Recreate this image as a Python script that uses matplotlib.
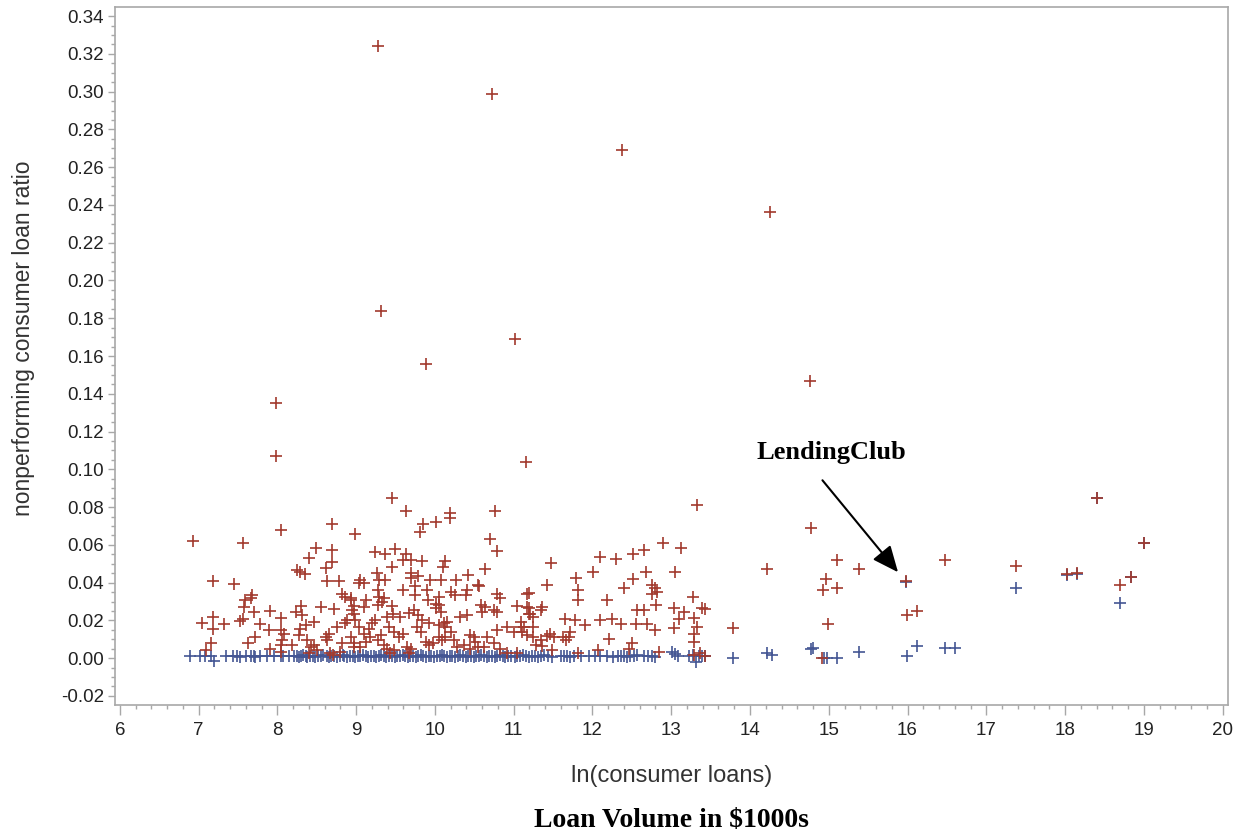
import matplotlib
matplotlib.use("Agg")
from matplotlib import pyplot as plt
from matplotlib.ticker import MultipleLocator, FormatStrFormatter

# red: banks with a nonperforming consumer loan ratio (x = ln loans, y = ratio)
red_pts = [
    (9.27, .324), (10.72, .299), (12.38, .269), (14.25, .236), (9.31, .184),
    (11.01, .169), (9.89, .156), (14.76, .147), (7.98, .135), (7.98, .107),
    (11.15, .104), (9.45, .085), (13.33, .081), (10.76, .078), (9.63, .078),
    (10.19, .077), (10.19, .074), (10.01, .072), (9.85, .071), (9.81, .067),
    (8.99, .066), (10.70, .063), (10.79, .057), (6.93, .062), (7.56, .061),
    (8.04, .068), (8.69, .071), (14.78, .069),
    (7.18, .041), (7.45, .0395), (8.49, .0585), (8.69, .0575), (8.40, .053),
    (8.69, .051), (8.61, .0476), (8.25, .0466), (8.29, .0457), (8.35, .0444),
    (8.63, .041), (8.78, .041), (9.03, .040), (7.59, .0307), (7.66, .0316),
    (7.68, .0333), (7.57, .027), (7.70, .0245), (7.90, .025), (8.04, .0215),
    (8.23, .0245), (8.30, .0275), (8.31, .0228), (8.55, .027), (8.72, .026),
    (7.18, .022), (7.04, .0187), (7.18, .0152), (7.32, .018), (7.52, .0197),
    (7.56, .021), (7.78, .018), (7.89, .0148), (8.04, .0148), (7.72, .0113),
    (7.62, .0081), (7.15, .0078), (7.09, .0042), (8.08, .0127), (8.06, .0095),
    (8.04, .0069), (7.91, .005), (8.04, .0033), (8.19, .0069), (8.27, .0122),
    (8.29, .0157), (8.36, .0175), (8.46, .0192), (8.38, .0095), (8.42, .006),
    (8.46, .0069), (8.50, .0042), (8.61, .0113), (8.65, .013), (8.63, .0095),
    (8.76, .0166), (8.86, .0184), (8.88, .0201), (8.82, .034), (8.86, .0324),
    (8.93, .0316), (8.95, .0254), (8.97, .0236), (8.82, .0078), (8.93, .0113),
    (8.97, .006), (8.80, .0033), (8.67, .0025), (8.70, .0016), (8.40, .0025),
    (9.24, .056), (9.36, .055), (9.49, .0577), (9.63, .0554), (9.60, .0522),
    (9.70, .0519), (9.84, .0513), (9.45, .0483), (10.13, .0513), (10.10, .0483),
    (10.64, .0474), (9.05, .0416), (9.10, .0398), (9.26, .0451), (9.29, .0416),
    (9.37, .0416), (9.69, .045), (9.70, .0427), (9.79, .0434), (9.94, .0416),
    (10.07, .0413), (10.27, .0416), (10.42, .0439), (10.54, .0386), (10.56, .038),
    (9.27, .036), (9.29, .0324), (9.60, .036), (9.75, .038), (9.75, .0333),
    (9.90, .036), (9.91, .031), (10.05, .0324), (10.01, .0289), (10.20, .0351),
    (10.26, .0333), (10.41, .0363), (10.39, .0333), (10.79, .0342), (10.82, .0316),
    (11.17, .0342), (8.93, .0307), (8.97, .0275), (9.12, .0307), (9.10, .0271),
    (9.27, .028), (9.33, .0298), (9.35, .0316), (9.46, .0275), (9.47, .0236),
    (9.56, .0219), (9.67, .024), (9.73, .0254), (9.79, .0228), (9.84, .0201),
    (9.93, .0184), (10.01, .0263), (10.05, .028), (10.07, .0245), (10.11, .0184),
    (10.13, .0166), (10.32, .0219), (10.41, .0228), (10.58, .028), (10.60, .0245),
    (10.64, .0271), (10.75, .0254), (10.79, .0245), (11.04, .0275), (11.09, .0192),
    (10.79, .0148), (10.92, .0166), (11.00, .0139), (10.45, .0122), (10.49, .0113),
    (10.51, .0086), (10.66, .0113), (8.99, .0201), (9.03, .0166), (9.10, .013),
    (9.16, .0157), (9.20, .0184), (9.24, .0201), (9.18, .0113), (9.27, .0095),
    (9.31, .0122), (9.39, .0219), (9.41, .0166), (9.48, .0139), (9.54, .0113),
    (9.60, .013), (9.65, .006), (9.69, .0051), (9.67, .0025), (9.77, .0166),
    (9.82, .0139), (9.88, .0086), (9.92, .0069), (9.98, .0078), (10.05, .0113),
    (10.09, .0095), (10.13, .0113), (10.20, .0139), (10.24, .0095), (10.28, .006),
    (10.05, .0175), (10.15, .0192), (8.97, .0078), (9.05, .006), (9.12, .0086),
    (9.35, .0069), (9.39, .0051), (9.43, .0025), (9.48, .0042), (10.37, .0069),
    (10.45, .0051), (10.54, .006), (10.62, .006), (10.75, .0078), (10.83, .0051),
    (10.92, .0025), (11.04, .0025), (11.13, .0166), (11.17, .0122), (11.19, .0263),
    (11.19, .0236),
    (11.47, .0504), (11.42, .0386), (11.19, .0346), (12.10, .0536), (12.30, .0527),
    (12.52, .0554), (12.66, .0575), (12.89, .061), (13.12, .0584), (12.01, .0457),
    (11.79, .0427), (11.81, .0363), (11.81, .031), (12.68, .0457), (12.52, .0418),
    (12.40, .0372), (12.76, .0386), (12.80, .0369), (12.82, .0351), (12.76, .0342),
    (13.05, .0457), (12.19, .0307), (12.56, .0254), (12.66, .0254), (12.81, .028),
    (13.27, .0324), (13.39, .0263), (13.04, .0263), (13.16, .0245), (13.10, .021),
    (13.29, .0215), (13.33, .0166), (13.29, .013), (13.29, .0086), (13.03, .0162),
    (12.80, .0148), (11.65, .021), (11.78, .0201), (11.91, .0175), (12.10, .0201),
    (12.25, .021), (12.36, .018), (12.55, .018), (12.69, .018), (12.21, .0099),
    (11.72, .0139), (11.70, .011), (11.66, .0095), (11.46, .013), (11.51, .0113),
    (11.42, .0116), (11.63, .011), (11.28, .0069), (11.36, .0063), (11.49, .0042),
    (12.07, .0042), (12.50, .0078), (12.46, .0051), (12.84, .0033), (11.81, .0025),
    (13.29, .0016), (13.37, .0025), (11.09, .0166), (11.11, .0139), (11.17, .027),
    (11.21, .0236), (11.25, .0219), (11.34, .0254), (11.36, .027), (11.25, .0166),
    (11.25, .0113), (11.34, .0095),
    (13.43, .026), (13.78, .016), (13.43, .001), (14.22, .047), (15.11, .052),
    (15.39, .047), (14.97, .042), (14.93, .036), (15.11, .037), (14.99, .018),
    (14.91, .0003), (15.98, .041), (15.99, .023), (16.12, .025), (16.47, .052),
    (17.38, .0487), (18.03, .0444), (18.15, .045), (18.41, .085), (18.70, .039),
    (18.84, .043), (19.00, .061),
]

# blue: second series, mostly sitting on the zero line
blue_pts = [
    (6.89, .001), (7.02, .001), (7.08, .0012), (7.15, .001), (7.19, -.0014),
    (7.34, .001), (7.44, .0012), (7.49, .001), (7.53, .0008), (7.60, .001),
    (7.66, .0012), (7.70, .001), (7.72, .0008), (7.78, .001), (7.87, .0012),
    (7.95, .001), (8.04, .001), (8.07, .0012), (8.14, .001), (8.21, .001),
    (8.25, .0012), (8.27, .0005), (8.30, .001), (8.33, .0015), (8.36, .001),
    (8.38, .0008), (8.41, .0012), (8.45, .001), (8.48, .0005), (8.52, .0012),
    (8.55, .001), (8.58, .0015), (8.63, .001), (8.66, .0008), (8.68, .0012),
    (8.72, .001), (8.75, .0005), (8.79, .001), (8.83, .0015), (8.85, .001),
    (8.88, .0008), (8.92, .0012), (8.96, .001), (8.99, .0005), (9.02, .0012),
    (9.05, .001), (9.09, .0015), (9.12, .001), (9.15, .0008), (9.19, .0012),
    (9.22, .001), (9.25, .0005), (9.29, .001), (9.32, .0015), (9.35, .001),
    (9.38, .0008), (9.42, .0012), (9.45, .001), (9.49, .0005), (9.52, .0012),
    (9.55, .001), (9.59, .0015), (9.62, .001), (9.66, .0008), (9.68, .0012),
    (9.72, .001), (9.76, .0005), (9.79, .001), (9.82, .0015), (9.85, .001),
    (9.89, .0008), (9.92, .0012), (9.95, .001), (9.99, .0005), (10.02, .0012),
    (10.06, .001), (10.09, .0015), (10.12, .001), (10.15, .0008), (10.19, .0012),
    (10.22, .001), (10.26, .0005), (10.29, .001), (10.32, .0015), (10.36, .001),
    (10.39, .0008), (10.42, .0012), (10.46, .001), (10.49, .0005), (10.52, .0012),
    (10.56, .001), (10.59, .0015), (10.62, .001), (10.66, .0008), (10.69, .0012),
    (10.72, .001), (10.76, .0005), (10.79, .001), (10.83, .0015), (10.86, .001),
    (10.89, .0008), (10.93, .0012), (10.97, .001), (11.01, .0005), (11.04, .0012),
    (11.08, .001), (11.12, .0015), (11.15, .001), (11.19, .0008), (11.23, .0012),
    (11.27, .001), (11.31, .0005), (11.35, .001), (11.39, .0015), (11.44, .001),
    (11.48, .0008), (11.60, .001), (11.64, .0012), (11.68, .001), (11.72, .0008),
    (11.76, .001), (11.86, .0012), (11.95, .001), (12.03, .001), (12.09, .0012),
    (12.18, .001), (12.26, .0008), (12.32, .001), (12.36, .0012), (12.40, .001),
    (12.44, .0008), (12.48, .0012), (12.53, .001), (12.57, .0015), (12.66, .001),
    (12.70, .0012), (12.75, .001), (12.80, .0008), (13.01, .003), (13.05, .002),
    (13.09, .001), (13.23, .001), (13.27, .0015), (13.31, -.002), (13.35, .001),
    (13.39, .0012), (13.43, .001), (13.78, .0003), (14.22, .0025), (14.28, .0015),
    (14.78, .005), (14.80, .0055), (14.94, .0), (14.98, .0), (15.11, .0),
    (15.39, .003), (15.99, .001), (16.12, .0065), (16.47, .0055), (16.60, .0055),
    (15.98, .0405), (17.38, .037), (18.03, .0440), (18.15, .0448), (18.41, .0848),
    (18.70, .029), (18.84, .0428), (19.00, .0608),
]

xticks = list(range(6, 21))
yticks = [-0.02, 0.00, 0.02, 0.04, 0.06, 0.08, 0.10, 0.12, 0.14, 0.16,
          0.18, 0.20, 0.22, 0.24, 0.26, 0.28, 0.30, 0.32, 0.34]

RED = "#A23A2E"
BLUE = "#445694"
GRID = "#A8A8A8"


def scatter_chart():
    plt.rcParams["font.family"] = ["Liberation Sans", "DejaVu Sans"]
    plt.rcParams["axes.unicode_minus"] = False

    fig = plt.figure(figsize=(12.49, 8.36), dpi=100)
    ax = fig.add_axes([0.0921, 0.1567, 0.8911, 0.8349])

    rx, ry = zip(*red_pts)
    bx, by = zip(*blue_pts)
    # blue first, red drawn over it
    ax.plot(bx, by, "+", color=BLUE, ms=9, mew=1.2, linestyle="none")
    ax.plot(rx, ry, "+", color=RED, ms=9, mew=1.2, linestyle="none")

    ax.set_xlim(5.937, 20.07)
    ax.set_ylim(-0.0248, 0.3448)
    ax.set_xticks(xticks)
    ax.set_yticks(yticks)
    ax.xaxis.set_minor_locator(MultipleLocator(0.2))
    ax.yaxis.set_minor_locator(MultipleLocator(0.005))
    ax.yaxis.set_major_formatter(FormatStrFormatter("%.2f"))

    for s in ax.spines.values():
        s.set_color(GRID)
        s.set_linewidth(1.2)
    ax.tick_params(which="major", length=5, width=1, color=GRID,
                   labelsize=13.5, labelcolor="#222222", pad=3)
    ax.tick_params(which="minor", length=3, width=1, color=GRID)
    ax.tick_params(axis="x", which="major", length=7, pad=5)

    fig.text(0.5376, 0.0718, "ln(consumer loans)", ha="center", va="center",
             fontsize=17, color="#333333")
    fig.text(0.0185, 0.5957, "nonperforming consumer loan ratio", ha="center",
             va="center", rotation=90, fontsize=16.5, color="#333333")
    fig.text(0.5376, 0.0190, r"Loan Volume in \$1000s", ha="center", va="center",
             fontsize=20, fontweight="bold", family="Liberation Serif")

    ax.text(15.03, 0.109, "LendingClub", ha="center", va="center",
            fontsize=19, fontweight="bold", family="Liberation Serif")
    ax.annotate("", xy=(15.88, 0.0455), xytext=(14.92, 0.0942),
                arrowprops=dict(arrowstyle="-|>,head_length=0.8,head_width=0.35",
                                color="black", lw=1.5, mutation_scale=20,
                                shrinkA=0, shrinkB=0))

    plt.savefig("out.png", dpi=100)


if __name__ == "__main__":
    scatter_chart()
